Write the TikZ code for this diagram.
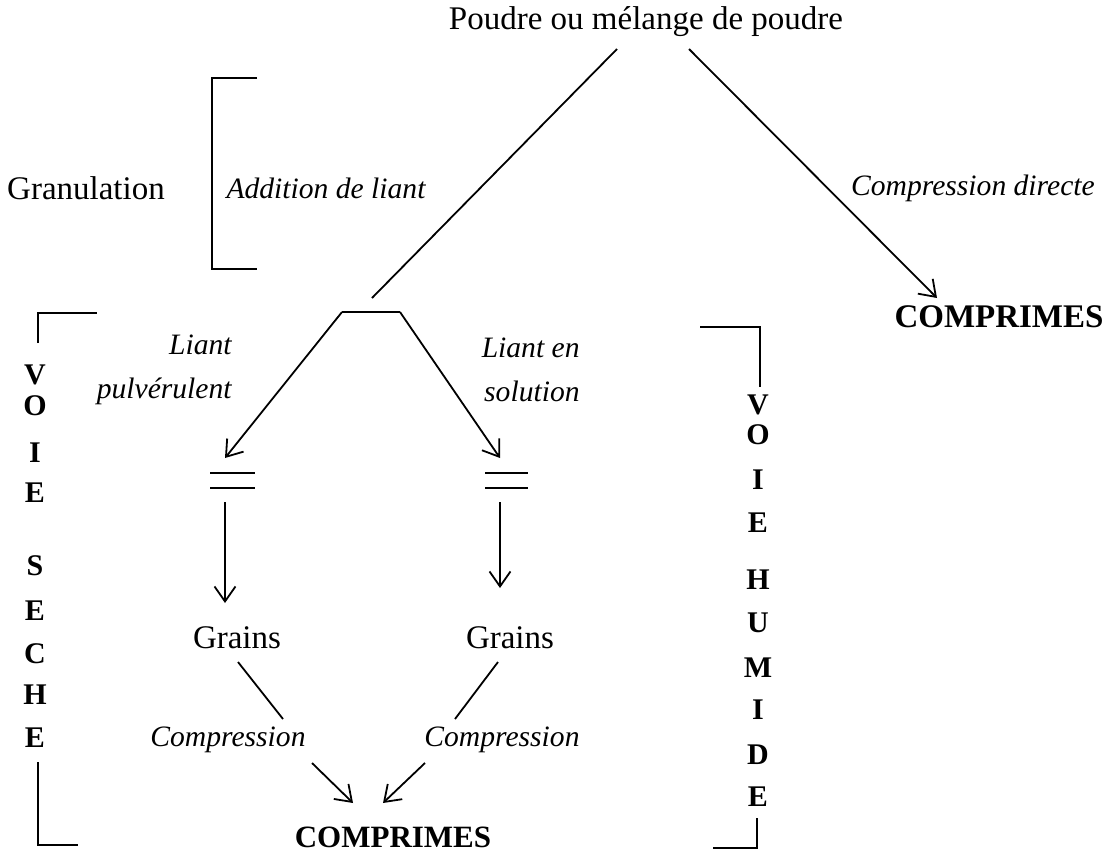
\documentclass[tikz,border=0pt]{standalone}
\usepackage{fontspec}
\setmainfont{Liberation Serif}
\usetikzlibrary{arrows.meta,positioning}

\begin{document}
\begin{tikzpicture}[
      x=0.5pt, y=-0.5pt,
      txt/.style={inner sep=0pt, font=\fontsize{16.5pt}{19pt}\selectfont},
      itxt/.style={inner sep=0pt, font=\fontsize{14.8pt}{22pt}\selectfont\itshape},
      bigtxt/.style={inner sep=0pt, font=\fontsize{16.5pt}{19pt}\selectfont\bfseries},
      vletter/.style={inner sep=0pt, font=\fontsize{15pt}{18pt}\selectfont\bfseries},
      flowarr/.style={-{Straight Barb[length=7.5pt,width=10.5pt]}, line width=0.9pt},
      plainln/.style={line width=0.9pt}
    ]
      \useasboundingbox (0,0) rectangle (1110,853);

      \node[txt] (src) at (646,22) {Poudre ou mélange de poudre};
      \node[txt] (gran) at (86,188) {Granulation};
      \node[itxt] (addl) at (326,188) {Addition de liant};
      \node[itxt] (cdir) at (973,188) {Compression directe};
      \node[bigtxt] (compd) at (999,317) {COMPRIMES};
      \node[itxt, align=right, anchor=east] (lsec) at (232,370) {Liant\\pulvérulent};
      \node[itxt, align=right, anchor=east] (lhum) at (580,370) {Liant en\\solution};
      \node[txt] (grsec) at (237,638) {Grains};
      \node[txt] (grhum) at (510,638) {Grains};
      \node[itxt] (cpsec) at (228,740) {Compression};
      \node[itxt] (cphum) at (502,740) {Compression};
      \node[bigtxt, font=\fontsize{15.5pt}{18pt}\selectfont\bfseries] (compf) at (393,837) {COMPRIMES};

      % free ends of the connectors
      \coordinate (srcL) at (617,49);
      \coordinate (srcR) at (689,49);
      \coordinate (jn) at (372,298);
      \coordinate (tipD) at (937,298);
      \coordinate (topL) at (342,312);
      \coordinate (topR) at (400,312);
      \coordinate (tipL) at (225,458);
      \coordinate (tipR) at (500,458);
      \coordinate (dnL) at (225,502);
      \coordinate (dnR) at (500,502);
      \coordinate (grL) at (225,603);
      \coordinate (grR) at (500,588);
      \coordinate (csL1) at (238,662);
      \coordinate (csL2) at (283,719);
      \coordinate (csR1) at (498,662);
      \coordinate (csR2) at (455,719);
      \coordinate (fnL1) at (312,763);
      \coordinate (fnL2) at (353,803);
      \coordinate (fnR1) at (425,763);
      \coordinate (fnR2) at (383,803);

      \draw[plainln] (srcL) -- (jn);
      \draw[flowarr] (srcR) -- (tipD);
      \draw[plainln] (topL) -- (topR);
      \draw[flowarr] (topL) -- (tipL);
      \draw[flowarr] (topR) -- (tipR);
      \draw[flowarr] (dnL) -- (grL);
      \draw[flowarr] (dnR) -- (grR);
      \draw[plainln] (csL1) -- (csL2);
      \draw[plainln] (csR1) -- (csR2);
      \draw[flowarr] (fnL1) -- (fnL2);
      \draw[flowarr] (fnR1) -- (fnR2);

      % the two = signs
      \draw[plainln] (210,473) -- (255,473) (210,488) -- (255,488);
      \draw[plainln] (485,473) -- (528,473) (485,488) -- (528,488);

      % brackets
      \draw[plainln] (257,78) -- (212,78) -- (212,269) -- (257,269);
      \draw[plainln] (38,343) -- (38,313) -- (97,313);
      \draw[plainln] (38,762) -- (38,845) -- (78,845);
      \draw[plainln] (700,327) -- (760,327) -- (760,387);
      \draw[plainln] (757,818) -- (757,848) -- (713,848);

      \foreach \ch/\yy [count=\i] in {V/375,O/406,I/453,E/493,S/566,E/611,C/654,H/695,E/738}
        \node[vletter] (sec\i) at (35,\yy) {\ch};
      \foreach \ch/\yy [count=\i] in {V/405,O/435,I/480,E/523,H/580,U/623,M/668,I/710,D/755,E/797}
        \node[vletter] (hum\i) at (758,\yy) {\ch};
    \end{tikzpicture}
\end{document}
